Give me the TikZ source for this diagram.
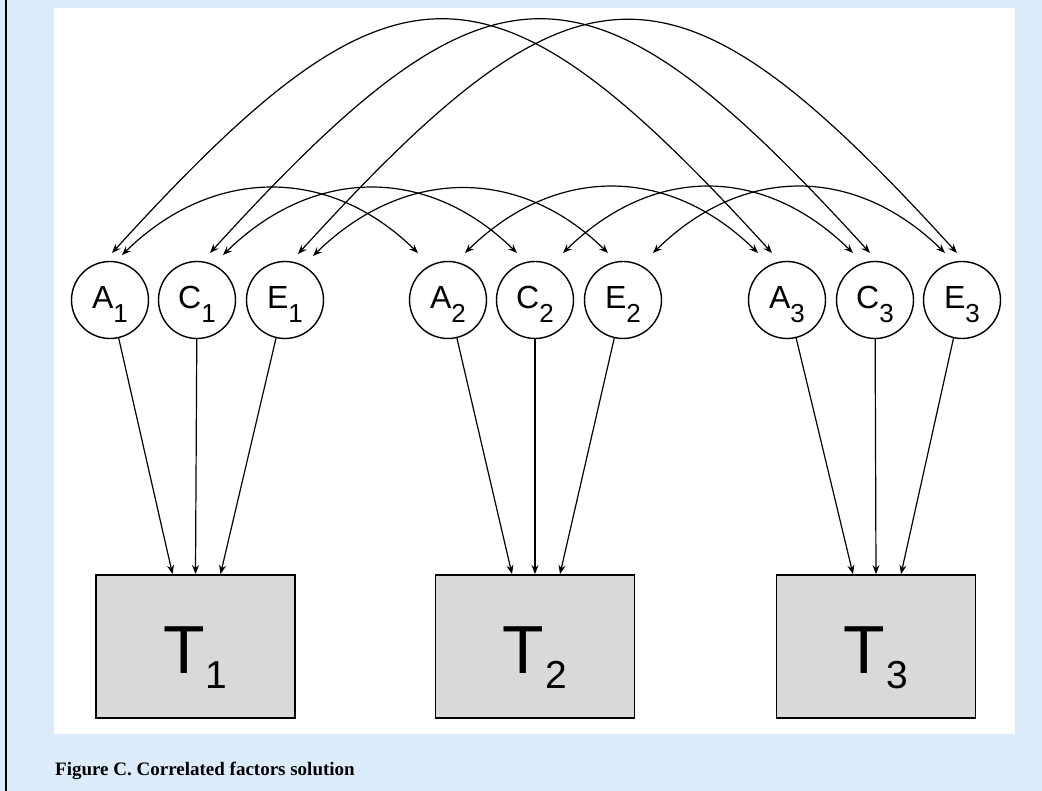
\documentclass[tikz,border=0pt]{standalone}
\usepackage{fontspec}
\setmainfont{Liberation Serif}
\newfontfamily\arialfam{Liberation Sans}
\usetikzlibrary{arrows.meta,calc}
\definecolor{pagebg}{RGB}{221,236,252}
\definecolor{boxgray}{RGB}{217,217,217}

% latent variable label: letter with a large, lowered index
\newcommand\latlab[2]{{\arialfam\fontsize{32}{32}\selectfont #1\raisebox{-14pt}{\fontsize{26}{26}\selectfont #2}}}
% observed variable label
\newcommand\obslab[2]{{\arialfam\fontsize{68}{68}\selectfont #1\hspace{1pt}\raisebox{-15pt}{\fontsize{39}{39}\selectfont #2}}}

\begin{document}
\begin{tikzpicture}[x=1pt,y=-1pt,
  latent/.style={circle,draw,line width=1.4pt,fill=white,minimum size=77pt,
    inner sep=0pt,text height=24pt,text depth=6pt},
  observed/.style={rectangle,draw,line width=1.8pt,fill=boxgray,
    minimum width=199pt,minimum height=143pt,inner sep=0pt,
    text height=60pt,text depth=7pt},
  load/.style={-{Stealth[length=9pt,width=7pt]},line width=1.2pt},
  cov/.style={{Stealth[length=9pt,width=7pt]}-{Stealth[length=9pt,width=7pt]},line width=1.2pt},
  caption/.style={anchor=base west,inner sep=0pt,font=\bfseries\fontsize{19}{19}\selectfont}]

% page background, margin rule and white panel
\fill[pagebg] (0,0) rectangle (1042,791);
\useasboundingbox (0,0) rectangle (1042,791);
\draw[line width=2pt] (6,0) -- (6,791);
\fill[white] (54,8) rectangle (1015,734);

% latent factors
\node[latent] (A1) at (110,300) {\latlab{A}{1}};
\node[latent] (C1) at (197,300) {\latlab{C}{1}};
\node[latent] (E1) at (285,300) {\latlab{E}{1}};
\node[latent] (A2) at (448,300) {\latlab{A}{2}};
\node[latent] (C2) at (535,300) {\latlab{C}{2}};
\node[latent] (E2) at (623,300) {\latlab{E}{2}};
\node[latent] (A3) at (787,300) {\latlab{A}{3}};
\node[latent] (C3) at (875,300) {\latlab{C}{3}};
\node[latent] (E3) at (962,300) {\latlab{E}{3}};

% observed traits
\node[observed] (T1) at (195.5,646.5) {\obslab{T}{1}};
\node[observed] (T2) at (535,646.5) {\obslab{T}{2}};
\node[observed] (T3) at (876,646.5) {\obslab{T}{3}};

% loadings
\foreach \g in {1,2,3}{
  \draw[load] (A\g) -- ($(T\g.north)+(-23,0)$);
  \draw[load] (C\g) -- ($(T\g.north)+(0,0)$);
  \draw[load] (E\g) -- ($(T\g.north)+(25,0)$);
}

% correlations between occasions 1 and 3
\draw[cov] ($(A1)+(2,-47)$)  .. controls +(283,-311) and +(-283,-311) .. ($(A3)+(-15,-47)$);
\draw[cov] ($(C1)+(13,-47)$) .. controls +(283,-311) and +(-283,-311) .. ($(C3)+(-5,-47)$);
\draw[cov] ($(E1)+(13,-46)$) .. controls +(283,-311) and +(-283,-311) .. ($(E3)+(-5,-47)$);

% correlations between occasions 1 and 2
\draw[cov] ($(A1)+(12,-45)$) .. controls +(90,-88) and +(-90,-88) .. ($(A2)+(-30,-47)$);
\draw[cov] ($(C1)+(26,-45)$) .. controls +(90,-88) and +(-90,-88) .. ($(C2)+(-18,-47)$);
\draw[cov] ($(E1)+(28,-44)$) .. controls +(90,-88) and +(-90,-88) .. ($(E2)+(-15,-47)$);

% correlations between occasions 2 and 3
\draw[cov] ($(A2)+(17,-47)$) .. controls +(90,-88) and +(-90,-88) .. ($(A3)+(-29,-47)$);
\draw[cov] ($(C2)+(28,-47)$) .. controls +(90,-88) and +(-90,-88) .. ($(C3)+(-22,-47)$);
\draw[cov] ($(E2)+(30,-47)$) .. controls +(90,-88) and +(-90,-88) .. ($(E3)+(-17,-47)$);

% caption
\node[caption] (cap) at (55,775) {Figure C. Correlated factors solution};
\end{tikzpicture}
\end{document}
